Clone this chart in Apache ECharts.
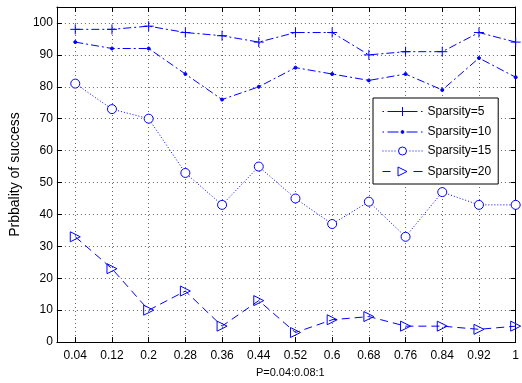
<!DOCTYPE html>
<html>
<head>
<meta charset="utf-8">
<script src="https://cdn.jsdelivr.net/npm/echarts@6/dist/echarts.min.js"></script>
<style>
  html, body { margin: 0; padding: 0; background: #fff; }
  #chart { width: 522px; height: 383px; }
</style>
</head>
<body>
<div id="chart"></div>
<script>
// Sampling ratios P = 0.04:0.08:1
const pValues = [0.04, 0.12, 0.2, 0.28, 0.36, 0.44, 0.52, 0.6, 0.68, 0.76, 0.84, 0.92, 1];
const yTicks = [0, 10, 20, 30, 40, 50, 60, 70, 80, 90, 100];

// Probability of success (%) for each sparsity level
const sparsity5 = [98, 98, 99, 97, 96, 94, 97, 97, 90, 91, 91, 97, 94];
const sparsity10 = [94, 92, 92, 84, 76, 80, 86, 84, 82, 84, 79, 89, 83];
const sparsity15 = [81, 73, 70, 53, 43, 55, 45, 37, 44, 33, 47, 43, 43];
const sparsity20 = [33, 23, 10, 16, 5, 13, 3, 7, 8, 5, 5, 4, 5];

const seriesNames = ['Sparsity=5', 'Sparsity=10', 'Sparsity=15', 'Sparsity=20'];

const BLUE = '#0000ff';
const FONT = 'Liberation Sans, Arial, Helvetica, sans-serif';
const FS = 12;

const pairs = vals => pValues.map((p, i) => [p, vals[i]]);

// Marker shapes (stroked outlines)
const plusSymbol = 'path://M5,0L5,10M0,5L10,5';
const circleSymbol = 'path://M0,5A5,5 0 1,0 10,5A5,5 0 1,0 0,5Z';
const triSymbol = 'path://M0,0L10,5L0,10Z';

// Legend samples (40 x 10 box): line pattern with the marker in the middle
const CORNERS = 'M0,0L0,0M40,10L40,10';
const legendIcons = [
  'path://' + CORNERS + 'M0,5L1.5,5M5,5L35,5M38.5,5L40,5M20,0.5L20,9.5M15.5,5L24.5,5',
  'path://' + CORNERS + 'M0,5L1.5,5M5,5L16,5M24,5L35,5M38.5,5L40,5' +
    'M18.6,5A1.4,1.4 0 1,0 21.4,5A1.4,1.4 0 1,0 18.6,5Z',
  'path://' + CORNERS + 'M0,5L1,5M3,5L4,5M6,5L7,5M9,5L10,5M12,5L13,5' +
    'M27,5L28,5M30,5L31,5M33,5L34,5M36,5L37,5M39,5L40,5' +
    'M16,5A4,4 0 1,0 24,5A4,4 0 1,0 16,5Z',
  'path://' + CORNERS + 'M0,5L8,5M31,5L40,5M15.5,0.5L24.5,5L15.5,9.5Z'
];
const legendFills = ['none', BLUE, '#fff', 'none'];

function makeSeries(name, vals, symbol, size, dash, fill) {
  return {
    name: name,
    type: 'line',
    data: pairs(vals),
    symbol: symbol,
    symbolSize: size,
    showAllSymbol: true,
    animation: false,
    lineStyle: { color: BLUE, width: 1, type: dash },
    itemStyle: { color: fill, borderColor: BLUE, borderWidth: 1 },
    emphasis: { disabled: true }
  };
}

const chart = echarts.init(document.getElementById('chart'), null, { renderer: 'canvas' });

const tickStyle = { show: true, inside: true, length: 5, lineStyle: { color: '#000', width: 1 } };
const gridLine = { show: true, lineStyle: { color: '#666', width: 1, type: [1, 3] } };

chart.setOption({
  backgroundColor: '#fff',
  animation: false,
  grid: { left: 54, top: 7, right: -1, bottom: 37, show: false },
  textStyle: { fontFamily: FONT },
  xAxis: [
    {
      type: 'value', min: 0, max: 1, position: 'bottom',
      name: 'P=0.04:0.08:1', nameLocation: 'middle', nameGap: 23,
      nameTextStyle: { color: '#000', fontSize: 11, fontFamily: FONT, padding: [0, 0, 0, 8] },
      axisLine: { show: true, onZero: false, lineStyle: { color: '#000', width: 1 } },
      axisTick: Object.assign({ customValues: pValues }, tickStyle),
      axisLabel: {
        customValues: pValues, color: '#000', fontSize: FS, fontFamily: FONT, margin: 8,
        alignMaxLabel: 'center',
        formatter: v => String(Math.round(v * 100) / 100)
      },
      splitLine: gridLine
    },
    {
      type: 'value', min: 0, max: 1, position: 'top',
      axisLine: { show: true, onZero: false, lineStyle: { color: '#000', width: 1 } },
      axisTick: Object.assign({ customValues: pValues }, tickStyle),
      axisLabel: { show: false },
      splitLine: { show: false }
    }
  ],
  yAxis: [
    {
      type: 'value', min: 0, max: 105, position: 'left',
      name: 'Prbbality of success', nameLocation: 'middle', nameGap: 25,
      nameTextStyle: { color: '#000', fontSize: 14, fontFamily: FONT },
      axisLine: { show: true, onZero: false, lineStyle: { color: '#000', width: 1 } },
      axisTick: Object.assign({ customValues: yTicks }, tickStyle),
      axisLabel: { customValues: yTicks, color: '#000', fontSize: FS, fontFamily: FONT, margin: 4 },
      splitLine: gridLine
    },
    {
      type: 'value', min: 0, max: 105, position: 'right',
      axisLine: { show: true, onZero: false, lineStyle: { color: '#000', width: 1 } },
      axisTick: Object.assign({ customValues: yTicks }, tickStyle),
      axisLabel: { show: false },
      splitLine: { show: false }
    }
  ],
  legend: {
    orient: 'vertical',
    left: 373, top: 98,
    padding: [6, 7, 5, 7],
    itemGap: 7,
    itemWidth: 40, itemHeight: 10,
    backgroundColor: '#fff',
    borderColor: '#000', borderWidth: 1,
    textStyle: { color: '#000', fontSize: FS, fontFamily: FONT },
    selectedMode: false,
    data: seriesNames.map((n, i) => ({
      name: n,
      icon: legendIcons[i],
      itemStyle: { color: legendFills[i], borderColor: BLUE, borderWidth: 1, borderType: 'solid' }
    }))
  },
  series: [
    makeSeries(seriesNames[0], sparsity5, plusSymbol, 10, [8, 3, 2, 3], 'none'),
    makeSeries(seriesNames[1], sparsity10, 'circle', 3, [8, 3, 2, 3], BLUE),
    makeSeries(seriesNames[2], sparsity15, circleSymbol, 9, [1, 2], '#fff'),
    makeSeries(seriesNames[3], sparsity20, triSymbol, 10, [8, 5], 'none')
  ]
});
</script>
</body>
</html>
